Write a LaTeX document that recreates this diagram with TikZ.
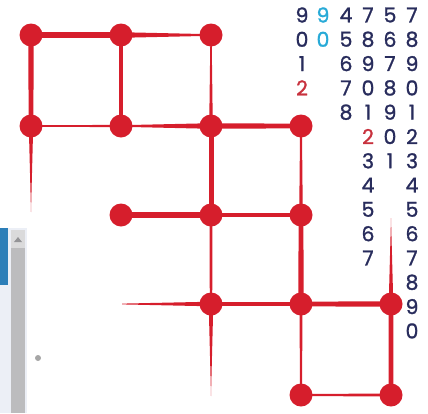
\documentclass[tikz,border=0pt]{standalone}
\usepackage{fontspec}
\setmainfont{Poppins}
\newfontfamily\digitfont[FakeBold=1.2]{Poppins}
\usetikzlibrary{calc, backgrounds}
\definecolor{dotred}{RGB}{214, 30, 44}
\definecolor{navy}{RGB}{40, 44, 92}
\definecolor{skyblue}{RGB}{40, 170, 215}
\definecolor{mutedred}{RGB}{200, 50, 62}
\definecolor{barblue}{RGB}{44, 126, 184}
\definecolor{panel}{RGB}{236, 239, 246}
\definecolor{scroll}{RGB}{188, 188, 190}

% tapered spoke between two points, half widths at each end
\newcommand\spoke[4]{%
  \fill[dotred] ($(#1)!#3!90:(#2)$) -- ($(#2)!#4!-90:(#1)$) -- ($(#2)!#4!90:(#1)$) -- ($(#1)!#3!-90:(#2)$) -- cycle;}

\tikzset{
  dot/.style={circle, fill=dotred, minimum size=23pt, inner sep=0pt},
  digit/.style={text=navy, inner sep=0pt, font=\digitfont\fontsize{20.5}{20.5}\selectfont},
}

\begin{document}
\begin{tikzpicture}[x=1pt, y=-1pt]
    \useasboundingbox (0,0) rectangle (428,413);

    % side panel
    \fill[panel] (0,228) rectangle (27,413);
    \fill[barblue] (0,228) rectangle (8,285);
    \fill[scroll!55] (11,230) rectangle (25,248);
    \fill[scroll] (11,248) rectangle (25,413);
    \fill[scroll!160] (14,242) -- (22,242) -- (18,237) -- cycle;
    \fill[black!35] (38,358) circle (3);

    % dots
    \node[dot] (a1) at (31,35) {};
    \node[dot] (a2) at (121,35) {};
    \node[dot] (a3) at (211,35) {};
    \node[dot] (b1) at (31,126) {};
    \node[dot] (b2) at (121,126) {};
    \node[dot] (b3) at (211,126) {};
    \node[dot] (b4) at (301,126) {};
    \node[dot] (c2) at (121,215) {};
    \node[dot] (c3) at (211,215) {};
    \node[dot] (c4) at (301,215) {};
    \node[dot] (d3) at (211,304) {};
    \node[dot] (d4) at (301,304) {};
    \node[dot] (d5) at (391,304) {};
    \node[dot] (e4) at (301,395) {};
    \node[dot] (e5) at (391,395) {};

    % free ends of the spikes
    \coordinate (t1) at (31,212);
    \coordinate (t2) at (122,304);
    \coordinate (t3) at (211,396);
    \coordinate (t4) at (391,218);

    % spokes
    \begin{scope}[on background layer]
        \spoke{a1}{a2}{2.8pt}{2.8pt}
        \spoke{a2}{a3}{2.8pt}{0.8pt}
        \spoke{a1}{b1}{2.8pt}{2.3pt}
        \spoke{a2}{b2}{1.8pt}{1.8pt}
        \spoke{a3}{b3}{0.6pt}{1.8pt}
        \spoke{b1}{b2}{0.8pt}{1.1pt}
        \spoke{b2}{b3}{0.8pt}{2.8pt}
        \spoke{b3}{b4}{2.8pt}{2.3pt}
        \spoke{b1}{t1}{2.2pt}{0pt}
        \spoke{b3}{c3}{2.5pt}{2.5pt}
        \spoke{b4}{c4}{0.9pt}{1.8pt}
        \spoke{c2}{c3}{2.8pt}{2.8pt}
        \spoke{c3}{c4}{2.3pt}{2.3pt}
        \spoke{c3}{d3}{1.5pt}{1.2pt}
        \spoke{c4}{d4}{2.3pt}{2.8pt}
        \spoke{t2}{d3}{0.4pt}{2.3pt}
        \spoke{d3}{d4}{1.7pt}{1.7pt}
        \spoke{d4}{d5}{2.3pt}{2.8pt}
        \spoke{d3}{t3}{2.3pt}{0pt}
        \spoke{d4}{e4}{1.4pt}{1.1pt}
        \spoke{t4}{d5}{0pt}{2.3pt}
        \spoke{d5}{e5}{2.5pt}{2.3pt}
        \spoke{e4}{e5}{1.1pt}{1.4pt}
    \end{scope}

    % digit columns
    \foreach \d [count=\r] in {9,0,1}
        \node[digit] (k1-\r) at (302, 15+24.3*\r-24.3) {\d};
    \node[digit, text=mutedred] (k1-4) at (302, 15+24.3*3) {2};
    \foreach \d [count=\r] in {9,0}
        \node[digit, text=skyblue] (k2-\r) at (323, 15+24.3*\r-24.3) {\d};
    \foreach \d [count=\r] in {4,5,6,7,8}
        \node[digit] (k3-\r) at (346, 15+24.3*\r-24.3) {\d};
    \foreach \d [count=\r] in {7,8,9,0,1}
        \node[digit] (k4-\r) at (368, 15+24.3*\r-24.3) {\d};
    \node[digit, text=mutedred] (k4-6) at (368, 15+24.3*5) {2};
    \foreach \d [count=\r from 7] in {3,4,5,6,7}
        \node[digit] (k4-\r) at (368, 15+24.3*\r-24.3) {\d};
    \foreach \d [count=\r] in {5,6,7,8,9,0,1}
        \node[digit] (k5-\r) at (390, 15+24.3*\r-24.3) {\d};
    \foreach \d [count=\r] in {7,8,9,0,1,2,3,4,5,6,7,8,9,0}
        \node[digit] (k6-\r) at (412, 15+24.3*\r-24.3) {\d};

\end{tikzpicture}
\end{document}
